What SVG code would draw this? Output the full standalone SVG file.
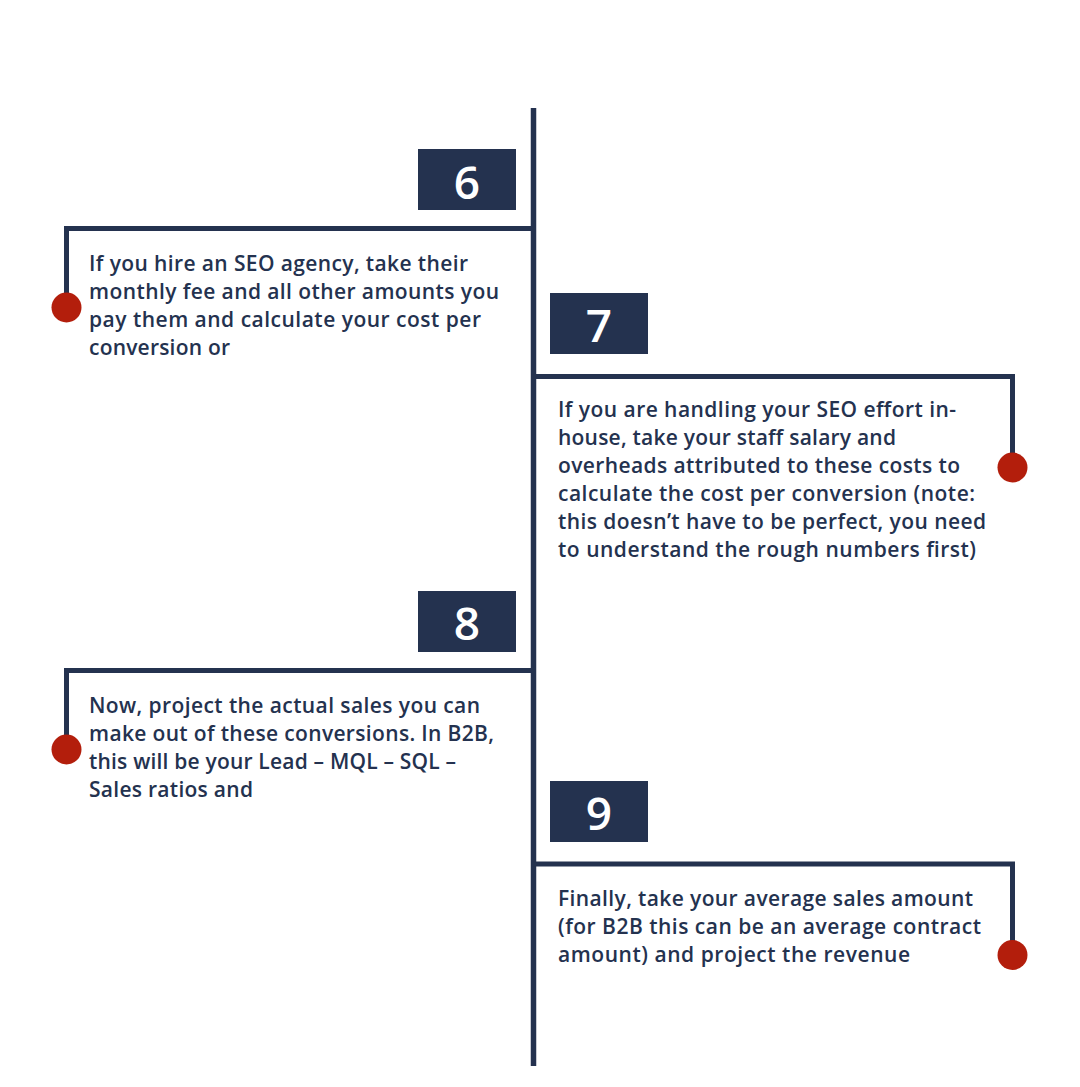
<svg xmlns="http://www.w3.org/2000/svg" width="1080" height="1087" viewBox="0 0 1080 1087">
<style>
.ln{fill:none;stroke:#24324f;stroke-width:5}
.box{fill:#24324f}
.num{font-family:"Open Sans","Noto Sans",sans-serif;font-size:46px;fill:#ffffff;text-anchor:middle;font-weight:600}
.txt{font-family:"Open Sans","Noto Sans",sans-serif;font-size:21px;fill:#24324f;font-weight:600}
.dot{fill:#b31e0c}
</style>
<rect width="1080" height="1087" fill="#ffffff"/>
<g id="connectors">
<line class="ln" x1="533.5" y1="108" x2="533.5" y2="1066" style="stroke-width:5.5"/>
<path class="ln" d="M533.5 228.5 H66.5 V300"/>
<path class="ln" d="M533.5 376.5 H1012.5 V460"/>
<path class="ln" d="M533.5 670.5 H66.5 V742"/>
<path class="ln" d="M533.5 864 H1012.5 V948"/>
</g>
<g id="step6">
<rect class="box" x="418" y="149" width="98" height="61"/>
<text class="num" x="467" y="199">6</text>
<circle class="dot" cx="66.5" cy="307.5" r="15"/>
<text class="txt">
<tspan x="89" y="271" textLength="379" lengthAdjust="spacing">If you hire an SEO agency, take their</tspan>
<tspan x="89" y="299" textLength="410" lengthAdjust="spacing">monthly fee and all other amounts you</tspan>
<tspan x="89" y="327" textLength="392" lengthAdjust="spacing">pay them and calculate your cost per</tspan>
<tspan x="89" y="355" textLength="141" lengthAdjust="spacing">conversion or</tspan>
</text>
</g>
<g id="step7">
<rect class="box" x="550" y="293" width="98" height="61"/>
<text class="num" x="599" y="342">7</text>
<circle class="dot" cx="1012.5" cy="467.5" r="15"/>
<text class="txt">
<tspan x="558" y="417" textLength="398" lengthAdjust="spacing">If you are handling your SEO effort in-</tspan>
<tspan x="558" y="445" textLength="338" lengthAdjust="spacing">house, take your staff salary and</tspan>
<tspan x="558" y="473" textLength="402" lengthAdjust="spacing">overheads attributed to these costs to</tspan>
<tspan x="558" y="501" textLength="417" lengthAdjust="spacing">calculate the cost per conversion (note:</tspan>
<tspan x="558" y="529" textLength="428" lengthAdjust="spacing">this doesn’t have to be perfect, you need</tspan>
<tspan x="558" y="557" textLength="418" lengthAdjust="spacing">to understand the rough numbers first)</tspan>
</text>
</g>
<g id="step8">
<rect class="box" x="418" y="591" width="98" height="61"/>
<text class="num" x="467" y="640">8</text>
<circle class="dot" cx="66.5" cy="749.5" r="15"/>
<text class="txt">
<tspan x="89" y="713" textLength="391" lengthAdjust="spacing">Now, project the actual sales you can</tspan>
<tspan x="89" y="741" textLength="405" lengthAdjust="spacing">make out of these conversions. In B2B,</tspan>
<tspan x="89" y="769" textLength="367" lengthAdjust="spacing">this will be your Lead – MQL – SQL –</tspan>
<tspan x="89" y="797" textLength="164" lengthAdjust="spacing">Sales ratios and</tspan>
</text>
</g>
<g id="step9">
<rect class="box" x="550" y="781" width="98" height="61"/>
<text class="num" x="599" y="830">9</text>
<circle class="dot" cx="1012.5" cy="955" r="15"/>
<text class="txt">
<tspan x="558" y="906" textLength="415" lengthAdjust="spacing">Finally, take your average sales amount</tspan>
<tspan x="558" y="934" textLength="423" lengthAdjust="spacing">(for B2B this can be an average contract</tspan>
<tspan x="558" y="962" textLength="352" lengthAdjust="spacing">amount) and project the revenue</tspan>
</text>
</g>
</svg>
